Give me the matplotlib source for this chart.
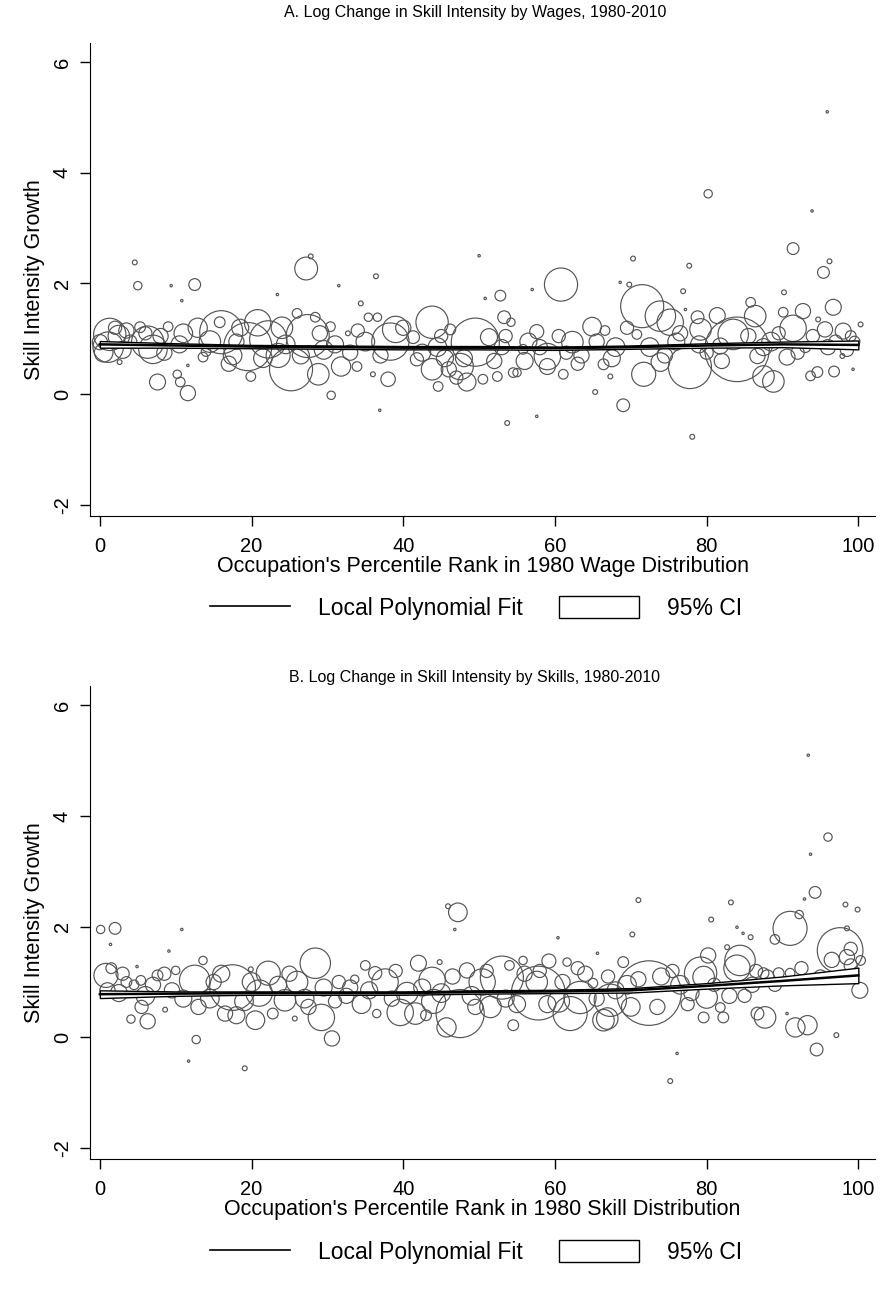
import numpy as np
import matplotlib.pyplot as plt
from matplotlib.lines import Line2D
from matplotlib.patches import Patch

### Panel A: skill intensity growth by 1980 wage rank.
x_a = [95.9, 80.2, 93.9, 91.4, 95.4, 96.2, 70.3, 77.7, 68.6, 69.8,
       76.9, 90.2, 77.2, 27.2, 27.8, 4.6, 5.0, 9.4, 12.5, 10.8,
       23.4, 31.5, 60.8, 52.8, 50.0, 36.4, 34.4, 53.3, 54.2, 50.8,
       57.0, 36.9, 53.7, 57.6, 69.0, 78.1, 11.6, 30.5, 65.3, 7.6,
       10.2, 10.6, 11.6, 44.6, 38.0, 48.4, 50.5, 61.1, 67.3, 88.8,
       87.5, 94.6, 93.7, 96.8, 99.3, 97.9, 2.6, 19.9, 28.8, 31.8,
       25.2, 1.3, 1.1, 0.0, 0.5, 2.5, 3.0, 5.3, 6.3, 7.0,
       9.0, 8.0, 4.0, 12.9, 16.0, 15.8, 19.5, 20.8, 22.2, 13.6,
       14.0, 17.5, 18.0, 23.5, 24.0, 26.0, 27.4, 28.4, 30.4, 32.7,
       29.5, 33.0, 33.9, 35.4, 36.6, 39.0, 38.3, 36.0, 41.8, 41.3,
       43.8, 46.2, 49.5, 51.3, 47.5, 43.8, 45.5, 44.5, 52.4, 54.5,
       55.8, 57.6, 59.0, 59.0, 55.0, 62.3, 64.9, 66.6, 66.4, 63.5,
       68.0, 71.5, 73.9, 75.2, 71.7, 70.8, 73.9, 77.8, 79.2, 78.8,
       81.4, 81.8, 84.0, 83.5, 85.8, 86.4, 86.7, 90.1, 92.7, 96.7,
       94.7, 91.4, 95.6, 98.0, 99.0, 100.3, 90.6, 88.5, 76.0, 80.0,
       97.0, 93.0, 60.5, 56.0, 53.0, 47.0, 46.0, 2.0, 10.5, 35.0,
       # denser core
       3.5, 6.0, 8.5, 11.0, 14.5, 17.0, 18.5, 21.5, 24.5, 26.5,
       29.0, 31.0, 34.0, 37.0, 40.0, 42.5, 45.0, 48.0, 52.0, 53.5,
       56.5, 58.0, 61.5, 63.0, 65.5, 67.5, 69.5, 72.5, 74.5, 76.5,
       79.0, 82.0, 85.5, 87.5, 89.5, 92.0, 94.0, 96.0, 98.5, 99.5]
y_a = [5.10, 3.62, 3.31, 2.63, 2.20, 2.40, 2.45, 2.32, 2.02, 1.98,
       1.86, 1.84, 1.53, 2.27, 2.49, 2.38, 1.96, 1.96, 1.98, 1.69,
       1.80, 1.96, 1.98, 1.78, 2.50, 2.13, 1.64, 1.39, 1.30, 1.73,
       1.89, -0.29, -0.52, -0.40, -0.20, -0.77, 0.02, -0.02, 0.04, 0.22,
       0.36, 0.22, 0.52, 0.14, 0.27, 0.22, 0.27, 0.36, 0.32, 0.23,
       0.32, 0.40, 0.33, 0.41, 0.45, 0.69, 0.58, 0.32, 0.36, 0.50,
       0.45, 1.08, 0.85, 0.94, 0.75, 1.05, 0.80, 1.21, 0.94, 0.81,
       1.22, 1.05, 0.95, 1.20, 1.12, 1.30, 0.86, 1.29, 0.99, 0.67,
       0.77, 0.70, 0.95, 0.70, 1.20, 1.46, 1.05, 1.39, 1.22, 1.10,
       0.80, 0.75, 0.50, 1.39, 1.39, 1.17, 0.95, 0.36, 0.63, 1.03,
       1.30, 1.17, 0.94, 1.03, 0.50, 0.45, 0.65, 0.85, 0.32, 0.39,
       0.81, 1.13, 0.50, 0.68, 0.39, 0.94, 1.22, 1.15, 0.54, 0.70,
       0.85, 1.59, 1.41, 1.30, 0.36, 1.08, 0.58, 0.49, 1.17, 1.39,
       1.42, 0.87, 0.81, 1.08, 1.66, 1.41, 0.69, 1.48, 1.50, 1.57,
       1.35, 1.19, 1.17, 1.14, 1.05, 1.26, 0.67, 0.95, 0.95, 0.75,
       0.95, 0.85, 1.05, 0.60, 0.85, 0.30, 0.45, 1.20, 0.90, 0.95,
       1.15, 1.10, 0.75, 1.10, 0.95, 0.55, 1.20, 0.65, 0.90, 0.70,
       1.10, 0.90, 1.15, 0.70, 1.20, 0.75, 1.05, 0.65, 0.60, 1.05,
       0.95, 0.85, 0.75, 0.55, 0.95, 0.65, 1.20, 0.85, 0.70, 1.10,
       0.90, 0.60, 1.05, 0.85, 1.10, 0.75, 1.05, 0.85, 0.80, 0.95]
emp_a = [0.5, 6, 0.5, 12, 12, 2, 2, 2, 0.5, 2,
         2, 2, 0.5, 45, 2, 2, 6, 0.5, 12, 0.5,
         0.5, 0.5, 95, 10, 0.5, 2, 2, 14, 6, 0.5,
         0.5, 0.5, 2, 0.5, 14, 2, 20, 6, 2, 22,
         6, 8, 0.5, 8, 18, 28, 8, 8, 2, 40,
         40, 10, 8, 10, 0.5, 2, 2, 8, 40, 32,
         160, 90, 80, 20, 30, 40, 25, 10, 90, 70,
         8, 20, 15, 32, 160, 10, 200, 60, 120, 8,
         8, 30, 20, 50, 40, 8, 160, 8, 8, 2,
         30, 20, 8, 6, 6, 60, 120, 2, 15, 14,
         90, 10, 200, 25, 60, 40, 25, 30, 8, 8,
         8, 17, 22, 60, 6, 40, 30, 8, 10, 20,
         30, 160, 80, 60, 50, 8, 30, 160, 40, 14,
         22, 22, 360, 80, 8, 40, 20, 8, 20, 22,
         2, 60, 20, 22, 10, 2, 22, 30, 25, 15,
         15, 10, 15, 25, 20, 15, 20, 15, 25, 30,
         20, 15, 20, 30, 40, 20, 25, 30, 30, 25,
         20, 25, 15, 20, 20, 25, 15, 25, 20, 15,
         25, 20, 15, 15, 20, 25, 15, 30, 20, 20,
         25, 20, 20, 25, 15, 15, 15, 20, 15, 10]

### Panel B: skill intensity growth by 1980 skill rank.
x_b = [93.4, 96.0, 93.7, 94.3, 92.9, 98.3, 99.9, 71.0, 83.2, 80.6,
       70.2, 84.0, 84.8, 85.8, 91.0, 92.2, 89.0, 98.5, 97.6, 98.5,
       99.0, 100.3, 100.2, 80.2, 79.2, 84.4, 82.7, 87.5, 89.5, 91.0,
       72.4, 69.0, 81.8, 79.6, 82.2, 80.0, 86.7, 87.7, 91.7, 93.3,
       94.5, 97.1, 90.6, 76.1, 75.2, 67.3, 66.9, 63.3, 65.0, 60.4,
       65.6, 47.2, 45.9, 46.8, 42.0, 44.8, 61.6, 59.2, 55.8, 53.0,
       48.4, 57.6, 57.8, 47.5, 45.7, 54.5, 36.5, 39.6, 41.6, 37.6,
       33.6, 36.3, 43.8, 50.4, 62.0, 66.4, 0.1, 2.0, 1.4, 10.8,
       9.1, 4.9, 0.8, 1.5, 3.5, 4.5, 5.4, 7.6, 4.1, 6.3,
       8.6, 12.7, 11.7, 19.1, 19.9, 13.6, 12.5, 10.0, 17.5, 15.0,
       22.2, 28.4, 24.4, 22.8, 25.7, 29.2, 30.6, 20.5, 16.5, 18.0,
       2.5, 6.0, 9.5, 14.5, 21.0, 26.0, 27.0, 31.5, 32.5, 34.5,
       40.5, 44.0, 49.0, 51.5, 55.0, 60.5, 64.0, 69.5, 70.0, 74.0,
       76.5, 77.5, 79.6, 84.0, 86.0, 88.0, 85.0, 95.0, 96.5, 99.0,
       58.0, 35.0, 43.0, 54.0, 67.0,
       # denser core
       1.0, 3.0, 5.5, 7.0, 8.5, 11.0, 13.0, 16.0, 19.0, 20.0,
       23.5, 25.0, 27.5, 29.5, 31.0, 33.0, 35.5, 38.5, 39.0, 42.5,
       45.0, 46.5, 49.5, 51.0, 53.5, 56.0, 59.0, 61.0, 63.0, 65.5,
       68.0, 71.0, 73.5, 75.5, 78.0, 81.0, 83.0, 86.5, 89.0, 92.5]
y_b = [5.10, 3.62, 3.31, 2.62, 2.50, 2.40, 2.31, 2.48, 2.44, 2.13,
       1.86, 1.99, 1.88, 1.81, 1.97, 2.22, 1.77, 1.97, 1.57, 1.45,
       1.60, 1.39, 0.85, 1.48, 1.16, 1.39, 1.63, 1.16, 1.16, 1.16,
       0.80, 1.36, 0.54, 0.36, 0.36, 0.72, 0.43, 0.36, 0.18, 0.22,
       -0.22, 0.04, 0.43, -0.29, -0.79, 0.67, 0.34, 0.72, 0.98, 1.80,
       1.52, 2.26, 2.37, 1.95, 1.34, 1.36, 1.36, 1.38, 1.39, 1.08,
       1.21, 1.00, 0.80, 0.43, 0.18, 0.22, 0.43, 0.45, 0.43, 1.00,
       1.05, 1.16, 1.03, 1.00, 0.43, 0.31, 1.95, 1.97, 1.68, 1.95,
       1.56, 1.28, 1.12, 1.25, 1.00, 0.95, 1.03, 1.12, 0.33, 0.29,
       0.50, -0.04, -0.43, -0.56, 1.23, 1.39, 1.03, 1.21, 0.90, 1.00,
       1.16, 1.34, 0.67, 0.43, 0.34, 0.36, -0.02, 0.31, 0.43, 0.40,
       0.80, 0.75, 0.85, 0.70, 0.80, 1.00, 0.70, 1.00, 0.75, 0.60,
       0.80, 0.65, 0.75, 0.55, 0.60, 0.65, 1.15, 0.95, 0.55, 1.10,
       0.95, 0.60, 1.09, 1.25, 0.95, 1.10, 0.75, 1.10, 1.40, 1.30,
       1.20, 1.30, 0.40, 1.30, 1.10,
       0.85, 1.15, 0.55, 0.95, 1.15, 0.70, 0.55, 1.15, 0.65, 1.00,
       0.95, 1.15, 0.55, 0.90, 0.65, 0.90, 0.85, 0.70, 1.20, 0.90,
       0.80, 1.10, 0.55, 1.20, 0.70, 1.15, 0.60, 1.00, 1.25, 0.70,
       0.85, 1.05, 0.55, 1.20, 0.80, 0.95, 0.75, 1.20, 0.95, 1.25]
emp_b = [0.5, 6, 0.5, 12, 0.5, 2, 2, 2, 2, 2,
         2, 0.5, 0.5, 2, 100, 6, 8, 2, 180, 20,
         15, 8, 22, 20, 90, 80, 2, 10, 10, 8,
         360, 10, 8, 10, 10, 40, 14, 40, 32, 32,
         14, 2, 0.5, 0.5, 2, 90, 40, 90, 8, 0.5,
         0.5, 30, 2, 0.5, 22, 2, 6, 17, 6, 160,
         20, 40, 250, 200, 32, 10, 6, 60, 40, 60,
         6, 15, 60, 60, 100, 40, 6, 12, 0.5, 0.5,
         0.5, 0.5, 50, 10, 10, 8, 8, 10, 6, 20,
         2, 6, 0.5, 2, 2, 6, 80, 6, 180, 20,
         50, 80, 40, 10, 2, 60, 20, 30, 20, 25,
         25, 30, 20, 30, 60, 40, 30, 15, 20, 30,
         40, 50, 30, 40, 25, 40, 20, 30, 30, 25,
         30, 15, 40, 60, 20, 15, 15, 15, 20, 15,
         15, 8, 10, 8, 15,
         20, 15, 15, 20, 15, 25, 20, 25, 30, 30,
         25, 20, 20, 25, 15, 20, 25, 20, 15, 25,
         30, 20, 20, 15, 25, 20, 25, 20, 15, 20,
         25, 20, 20, 15, 20, 15, 20, 15, 15, 15]

### Local polynomial fits with 95% CI.
fit_x = [0, 10, 20, 30, 40, 50, 60, 70, 80, 90, 100]
fit_a = [0.90, 0.88, 0.86, 0.85, 0.84, 0.84, 0.83, 0.85, 0.88, 0.90, 0.89]
ci_a = [0.06, 0.04, 0.03, 0.03, 0.03, 0.03, 0.03, 0.03, 0.04, 0.05, 0.08]
fit_b = [0.78, 0.79, 0.80, 0.80, 0.80, 0.82, 0.83, 0.85, 0.93, 1.02, 1.12]
ci_b = [0.07, 0.04, 0.03, 0.03, 0.03, 0.03, 0.03, 0.04, 0.05, 0.08, 0.14]

titles = ['A. Log Change in Skill Intensity by Wages, 1980-2010',
          'B. Log Change in Skill Intensity by Skills, 1980-2010']
xlabels = ["Occupation's Percentile Rank in 1980 Wage Distribution",
           "Occupation's Percentile Rank in 1980 Skill Distribution"]

plt.rcParams['font.family'] = ['Liberation Sans', 'DejaVu Sans']
plt.rcParams['axes.unicode_minus'] = False
fig = plt.figure(figsize=(8.86, 12.91), dpi=100)

panels = [(x_a, y_a, emp_a, fit_a, ci_a), (x_b, y_b, emp_b, fit_b, ci_b)]
axes_pos = [[0.1016, 0.6003, 0.886, 0.3667], [0.1016, 0.1022, 0.886, 0.3664]]
title_y = [0.990, 0.475]
legend_y = [0.529, 0.030]

for i, (xs, ys, emp, fit, ci) in enumerate(panels):
    ax = fig.add_axes(axes_pos[i])
    s = np.array(emp) * 6.0
    ax.scatter(xs, ys, s=s, facecolors='none', edgecolors='#555555',
               linewidths=0.85, zorder=2)
    fx = np.array(fit_x)
    fy = np.array(fit)
    fc = np.array(ci)
    ax.fill_between(fx, fy - fc, fy + fc, facecolor='white',
                    edgecolor='black', lw=1.0, zorder=3)
    ax.plot(fx, fy, color='black', lw=1.8, zorder=4)
    ax.set_xlim(-1.3, 102.2)
    ax.set_ylim(-2.2, 6.35)
    ax.set_xticks([0, 20, 40, 60, 80, 100])
    ax.set_yticks([-2, 0, 2, 4, 6])
    ax.spines['top'].set_visible(False)
    ax.spines['right'].set_visible(False)
    ax.tick_params(axis='both', direction='out', length=7, width=1,
                   labelsize=14.5, pad=6)
    ax.tick_params(axis='x', pad=8)
    for lab in ax.get_yticklabels():
        lab.set_rotation(90)
        lab.set_va('center')
    ax.set_ylabel('Skill Intensity Growth', fontsize=15.5, labelpad=6)
    ax.set_xlabel(xlabels[i], fontsize=15.5, labelpad=0)
    fig.text(0.536, title_y[i], titles[i], fontsize=11.5, ha='center', va='center')
    handles = [Line2D([], [], color='black', lw=1.2),
               Patch(facecolor='white', edgecolor='black', lw=1)]
    fig.legend(handles, ['Local Polynomial Fit', '95% CI'], loc='center',
               bbox_to_anchor=(0.537, legend_y[i]), ncol=2, frameon=False,
               fontsize=16.5, handlelength=3.5, handleheight=1.1,
               columnspacing=1.6, handletextpad=1.2)

fig.savefig('out.png', dpi=100)
